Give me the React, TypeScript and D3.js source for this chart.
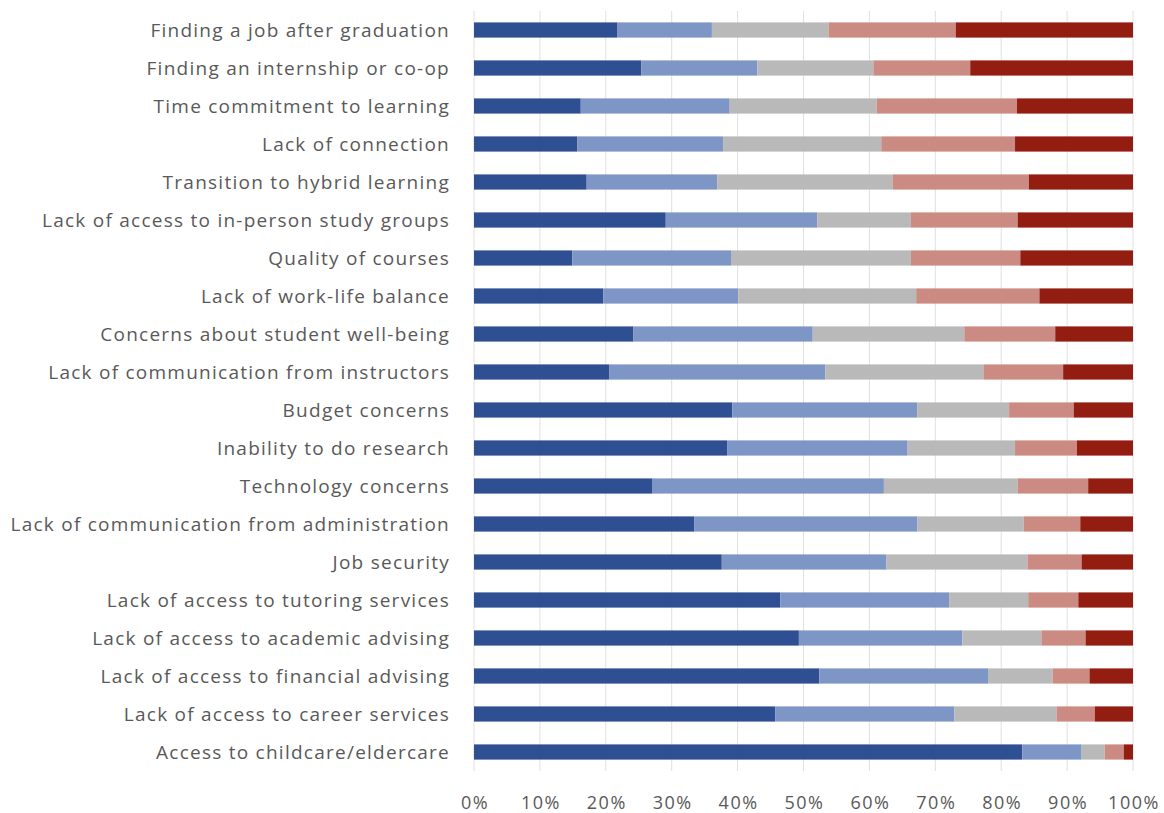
import React, { useRef, useEffect } from "react";
import * as d3 from "d3";

// categories top to bottom
const categories = [
  "Finding a job after graduation",
  "Finding an internship or co-op",
  "Time commitment to learning",
  "Lack of connection",
  "Transition to hybrid learning",
  "Lack of access to in-person study groups",
  "Quality of courses",
  "Lack of work-life balance",
  "Concerns about student well-being",
  "Lack of communication from instructors",
  "Budget concerns",
  "Inability to do research",
  "Technology concerns",
  "Lack of communication from administration",
  "Job security",
  "Lack of access to tutoring services",
  "Lack of access to academic advising",
  "Lack of access to financial advising",
  "Lack of access to career services",
  "Access to childcare/eldercare",
];

// percent shares, one array per response level (left to right)
const level1 = [21.7, 25.4, 16.2, 15.7, 17.1, 29.1, 14.9, 19.6, 24.2, 20.5, 39.2, 38.4, 27.1, 33.4, 37.6, 46.5, 49.3, 52.4, 45.7, 83.2];
const level2 = [14.4, 17.6, 22.6, 22.1, 19.8, 23.0, 24.1, 20.5, 27.2, 32.8, 28.1, 27.4, 35.1, 33.9, 25.0, 25.6, 24.8, 25.6, 27.2, 9.0];
const level3 = [17.7, 17.6, 22.3, 24.0, 26.6, 14.2, 27.3, 27.0, 23.0, 24.0, 13.9, 16.3, 20.3, 16.1, 21.4, 12.0, 12.0, 9.8, 15.5, 3.5];
const level4 = [19.3, 14.7, 21.3, 20.3, 20.7, 16.2, 16.6, 18.7, 13.8, 12.1, 9.8, 9.4, 10.7, 8.6, 8.2, 7.6, 6.7, 5.6, 5.8, 2.9];
const level5 = [26.9, 24.7, 17.6, 17.9, 15.8, 17.5, 17.1, 14.2, 11.8, 10.6, 9.0, 8.5, 6.8, 8.0, 7.8, 8.3, 7.2, 6.6, 5.8, 1.4];

const levelKeys = ["l1", "l2", "l3", "l4", "l5"];
const levelColors = ["#2f4f93", "#7e96c6", "#b9b9b9", "#cb8b82", "#921d10"];
const xTicks = [0, 10, 20, 30, 40, 50, 60, 70, 80, 90, 100];

const App = () => {
  const ref = useRef<SVGSVGElement>(null);
  const width = 1164;
  const height = 813;

  useEffect(() => {
    const svg = d3.select(ref.current);
    svg.selectAll("*").remove();

    const rows = categories.map((c, i) => ({
      cat: c,
      l1: level1[i], l2: level2[i], l3: level3[i], l4: level4[i], l5: level5[i],
    }));

    const x = d3.scaleLinear().domain([0, 100]).range([474, 1133]);
    const y = d3.scaleBand()
      .domain(categories)
      .range([11, 771])
      .paddingInner(0.6)
      .paddingOuter(0.3);

    const stack = d3.stack<any>().keys(levelKeys);
    const series = stack(rows);

    // gridlines
    svg.append("g")
      .selectAll("line")
      .data(xTicks)
      .enter()
      .append("line")
      .attr("x1", d => x(d))
      .attr("x2", d => x(d))
      .attr("y1", 11)
      .attr("y2", 771)
      .attr("stroke", "#e0e0e0")
      .attr("stroke-width", 1);

    // bars
    svg.append("g")
      .selectAll("g")
      .data(series)
      .enter()
      .append("g")
      .attr("fill", (d, i) => levelColors[i])
      .selectAll("rect")
      .data(d => d)
      .enter()
      .append("rect")
      .attr("x", (d: any) => x(d[0]))
      .attr("y", (d: any) => y(d.data.cat) as number)
      .attr("width", (d: any) => x(d[1]) - x(d[0]))
      .attr("height", y.bandwidth());

    // category labels
    svg.append("g")
      .selectAll("text")
      .data(categories)
      .enter()
      .append("text")
      .attr("x", 450)
      .attr("y", d => (y(d) as number) + y.bandwidth() / 2)
      .attr("dy", "0.35em")
      .attr("text-anchor", "end")
      .attr("font-family", "'Open Sans', sans-serif")
      .attr("font-size", 19)
      .attr("letter-spacing", 1.25)
      .attr("fill", "#595959")
      .text(d => d);

    // x tick labels
    svg.append("g")
      .selectAll("text")
      .data(xTicks)
      .enter()
      .append("text")
      .attr("x", d => x(d) + 1)
      .attr("y", 803)
      .attr("dy", "0.35em")
      .attr("text-anchor", "middle")
      .attr("font-family", "'Open Sans', sans-serif")
      .attr("font-size", 18)
      .attr("letter-spacing", 1.5)
      .attr("fill", "#595959")
      .text(d => d + "%");
  });

  return (
    <svg
      ref={ref}
      width={width}
      height={height}
      style={{ position: "absolute", left: 0, top: 0, background: "#fff" }}
    ></svg>
  );
};

export default App;
